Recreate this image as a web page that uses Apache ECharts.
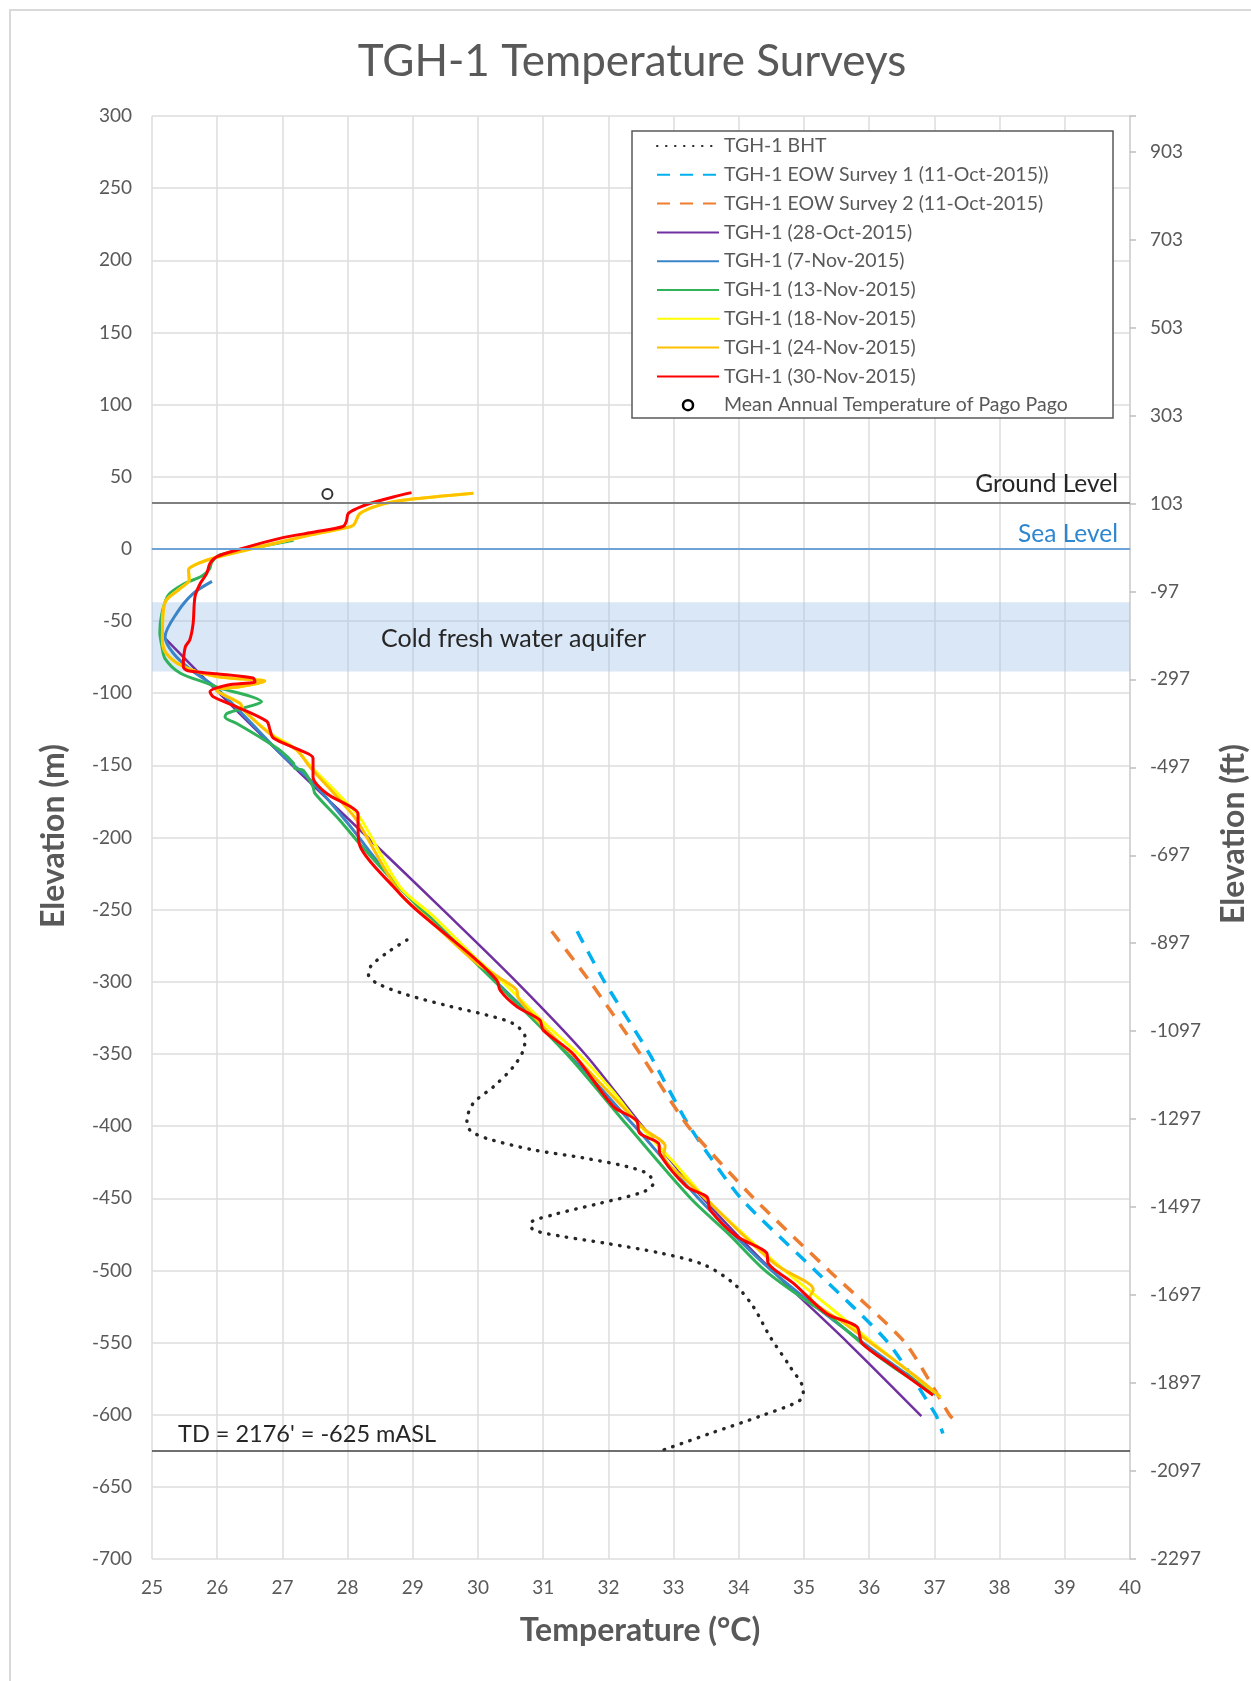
<!DOCTYPE html>
<html>
<head>
<meta charset="utf-8">
<script src="https://cdn.jsdelivr.net/npm/echarts@6/dist/echarts.min.js"></script>
<style>
  html, body { margin: 0; padding: 0; background: #fff; }
  #chart { width: 1251px; height: 1681px; }
</style>
</head>
<body>
<div id="chart"></div>
<script>
// Temperature (°C) vs elevation (m) pairs for each survey of well TGH-1
const bht = [[28.91,-271],[28.6,-280],[28.36,-289],[28.32,-295],[28.45,-301],[28.91,-309],[29.57,-317],[30.13,-323],[30.54,-329],[30.72,-338],[30.7,-347],[30.54,-359],[30.23,-373],[29.93,-384],[29.83,-396],[29.88,-403],[30.13,-408.5],[30.85,-416.5],[31.61,-422],[32.28,-428],[32.6,-433],[32.69,-439.5],[32.54,-445.5],[31.87,-453.5],[31.15,-461.5],[30.8,-467.5],[30.85,-472],[31.3,-476.5],[32.0,-481.5],[32.8,-488],[33.46,-496],[33.92,-509],[34.22,-525],[34.48,-546],[34.79,-567],[34.99,-583],[34.94,-590],[34.33,-601],[33.56,-613],[32.84,-624.5]];

const eowSurvey1 = [[31.52,-265],[31.94,-300],[32.63,-350],[33.24,-400],[34.03,-450],[35.17,-500],[36.29,-550],[37.02,-600],[37.13,-613]];

const eowSurvey2 = [[31.13,-265],[31.72,-300],[32.49,-350],[33.22,-400],[34.23,-450],[35.38,-500],[36.55,-550],[37.23,-600],[37.33,-605]];

const oct28 = [[25.2,-62],[26.03,-100],[27.15,-150],[28.31,-200],[29.46,-250],[30.59,-300],[31.64,-350],[32.52,-400],[33.45,-450],[34.51,-500],[35.67,-550],[36.8,-601]];

const nov07 = [[25.92,-22.5],[25.63,-31],[25.38,-44.5],[25.2,-61],[25.33,-72.5],[25.6,-84],[25.95,-95],[26.4,-115],[27.0,-143],[27.47,-162],[28.0,-190],[28.7,-230],[29.15,-250],[30.28,-300],[31.4,-350],[32.4,-400],[33.38,-450],[34.5,-500],[35.9,-550],[37.02,-586]];

const nov13 = [[27.17,6],[26.6,1],[26.05,-4],[25.92,-9],[25.88,-14],[25.76,-19],[25.5,-24],[25.25,-32],[25.15,-45],[25.12,-58],[25.15,-67],[25.2,-76],[25.43,-86],[25.84,-93],[26.04,-96.5],[26.5,-102],[26.68,-106],[26.5,-109],[26.15,-114],[26.12,-116.5],[26.3,-121],[26.71,-132],[26.96,-139.5],[27.17,-148.5],[27.19,-152],[27.32,-153.5],[27.47,-165],[27.5,-169.5],[27.88,-188],[28.14,-202],[28.7,-230],[29.13,-250],[30.26,-300],[31.36,-350],[32.3,-400],[33.26,-450],[33.85,-475],[34.4,-500],[35.0,-520],[35.4,-532],[35.87,-550],[36.4,-568],[37.0,-585]];

const nov18 = [[29.93,38.5],[28.91,34],[28.5,30.5],[28.19,24.5],[28.09,16.5],[27.93,14.3],[27.32,8.5],[26.45,-0.8],[25.94,-6.5],[25.66,-11],[25.56,-14.5],[25.57,-21.5],[25.43,-27.5],[25.22,-35.5],[25.17,-44.5],[25.16,-63],[25.22,-72.5],[25.48,-81.5],[25.99,-88.5],[26.6,-90.8],[26.73,-91.5],[26.35,-95.5],[25.99,-98],[26.35,-107],[26.4,-111.5],[26.82,-128],[27.2,-138.5],[27.42,-150],[27.9,-172],[28.2,-187],[28.8,-234],[29.3,-254],[29.95,-283],[30.38,-300],[31.0,-328],[31.54,-350],[32.05,-375],[32.49,-400],[33.0,-425],[33.49,-450],[34.1,-476],[34.7,-500],[35.3,-522],[35.65,-535],[36.05,-550],[36.6,-570],[37.1,-588]];

const nov24 = [[29.93,38.5],[28.91,34],[28.5,30.5],[28.19,24.5],[28.09,16.5],[27.93,14.3],[27.32,8.5],[26.45,-0.8],[25.94,-6.5],[25.66,-11],[25.56,-14.5],[25.57,-21.5],[25.43,-27.5],[25.22,-35.5],[25.17,-44.5],[25.16,-63],[25.22,-72.5],[25.48,-81.5],[25.99,-88.5],[26.6,-90.8],[26.73,-91.5],[26.35,-95.5],[25.99,-98],[26.35,-107],[26.4,-111.5],[26.86,-130],[27.22,-139.5],[27.42,-151],[27.88,-174],[28.14,-188],[28.8,-238.5],[29.2,-255],[29.95,-286],[30.34,-297.5],[30.59,-305.5],[30.62,-311.5],[31.0,-331],[31.55,-355],[32.1,-381],[32.55,-402],[32.87,-414],[32.85,-420],[33.25,-440],[33.6,-455],[34.1,-477],[34.6,-497],[35.0,-507],[35.12,-511],[35.14,-514],[35.09,-518],[35.6,-536],[36.2,-556],[36.7,-573],[37.09,-587.5]];

const nov30 = [[28.98,39],[28.7,36],[28.34,31.5],[28.14,28],[28.01,24.5],[27.98,19],[27.93,15.5],[27.53,12],[26.96,7.3],[26.4,0.5],[25.99,-5.5],[25.89,-10],[25.84,-17],[25.74,-24],[25.66,-33],[25.63,-52],[25.58,-63],[25.51,-68],[25.48,-81.5],[25.55,-84.5],[25.99,-86.5],[26.55,-89.5],[26.58,-92],[26.15,-94.5],[25.89,-99],[25.94,-102.5],[26.3,-109.5],[26.76,-119.5],[26.81,-125.5],[26.86,-131],[27.27,-139.5],[27.47,-145],[27.47,-158],[27.68,-169.5],[28.04,-178.5],[28.16,-183.5],[28.16,-192.5],[28.19,-206],[28.7,-234],[29.05,-250],[29.93,-283],[30.29,-299],[30.34,-306],[30.59,-317],[30.95,-326.5],[31.0,-333.5],[31.46,-350],[32.08,-386.5],[32.43,-396],[32.48,-405],[32.77,-412],[32.79,-419],[33.2,-442],[33.51,-449],[33.56,-458],[33.97,-476.5],[34.43,-488],[34.45,-495],[34.84,-509],[35.35,-530],[35.81,-539],[35.89,-550.5],[36.37,-566.5],[36.98,-586.5]];

const meanAnnualTemp = [[27.69,38]];

// Reference levels (m ASL)
const groundLevel = 32;
const seaLevel = 0;
const totalDepth = -625;
const aquiferTop = -37;
const aquiferBottom = -85;

// Right-hand axis labels in feet, one every 200 ft starting at the bottom of the chart
const ftLabels = [-2297,-2097,-1897,-1697,-1497,-1297,-1097,-897,-697,-497,-297,-97,103,303,503,703,903];
const FT_PER_M = 3.28084;

const FONT = 'Lato';
const GREY = '#595959';

const chart = echarts.init(document.getElementById('chart'), null, { renderer: 'canvas' });

function lineSeries(name, data, color, width, type, extra) {
  return Object.assign({
    name: name,
    type: 'line',
    data: data,
    symbol: 'none',
    smooth: 0.3,
    lineStyle: { color: color, width: width, type: type || 'solid' },
    itemStyle: { color: color },
    emphasis: { disabled: true }
  }, extra || {});
}

const names = [
  'TGH-1 BHT',
  'TGH-1 EOW Survey 1 (11-Oct-2015))',
  'TGH-1 EOW Survey 2 (11-Oct-2015)',
  'TGH-1 (28-Oct-2015)',
  'TGH-1 (7-Nov-2015)',
  'TGH-1 (13-Nov-2015)',
  'TGH-1 (18-Nov-2015)',
  'TGH-1 (24-Nov-2015)',
  'TGH-1 (30-Nov-2015)',
  'Mean Annual Temperature of Pago Pago'
];

const option = {
  animation: false,
  backgroundColor: '#ffffff',
  textStyle: { fontFamily: FONT },
  grid: { left: 152, right: 121, top: 116, bottom: 122 },
  xAxis: {
    type: 'value', min: 25, max: 40, interval: 1,
    axisLine: { show: true, lineStyle: { color: '#bfbfbf', width: 1.5 } },
    axisTick: { show: false },
    axisLabel: { color: GREY, fontSize: 19, margin: 19 },
    splitLine: { show: true, lineStyle: { color: '#dcdcdc', width: 1.5 } }
  },
  yAxis: [
    {
      type: 'value', min: -700, max: 300, interval: 50,
      axisLine: { show: false },
      axisTick: { show: false },
      axisLabel: { color: GREY, fontSize: 19, margin: 20 },
      splitLine: { show: true, lineStyle: { color: '#dcdcdc', width: 1.5 } }
    },
    {
      type: 'value', position: 'right',
      min: 0, max: 1000 * FT_PER_M, interval: 200,
      axisLine: { show: true, lineStyle: { color: '#d0d0d0', width: 1.5 } },
      axisTick: { show: true, inside: false, length: 6, lineStyle: { color: '#bfbfbf', width: 1.5 } },
      axisLabel: {
        color: GREY, fontSize: 19, margin: 20,
        formatter: function (v) {
          const i = v / 200;
          return Number.isInteger(i) && ftLabels[i] !== undefined ? String(ftLabels[i]) : '';
        }
      },
      splitLine: { show: false }
    }
  ],
  legend: {
    orient: 'vertical',
    left: 632, top: 131,
    padding: [5, 20, 4, 24],
    itemWidth: 62, itemHeight: 10, itemGap: 8.8,
    z: 4,
    itemStyle: { opacity: 0 },
    textStyle: { color: GREY, fontSize: 19.5, lineHeight: 19, fontFamily: FONT },
    data: names.slice(0, 9).concat([{
      name: names[9], icon: 'circle',
      itemStyle: { opacity: 1, color: '#ffffff', borderColor: '#000000', borderWidth: 2.5 }
    }]),
    selectedMode: false
  },
  graphic: [
    { type: 'rect', silent: true, z: -10, shape: { x: 10, y: 10, width: 1300, height: 1700 },
      style: { fill: null, stroke: '#d9d9d9', lineWidth: 2 } },
    { type: 'rect', silent: true, z: 3, shape: { x: 632, y: 131, width: 481, height: 287 },
      style: { fill: '#ffffff', stroke: '#595959', lineWidth: 1.5 } },
    { type: 'text', silent: true, x: 632, y: 62,
      style: { text: 'TGH-1 Temperature Surveys', fontFamily: FONT, fontSize: 44, fill: GREY, align: 'center', verticalAlign: 'middle' } },
    { type: 'text', silent: true, x: 640, y: 1631,
      style: { text: 'Temperature (°C)', fontFamily: FONT, fontSize: 32, fontWeight: 'bold', fill: GREY, align: 'center', verticalAlign: 'middle' } },
    { type: 'text', silent: true, x: 54, y: 836, rotation: Math.PI / 2,
      style: { text: 'Elevation (m)', fontFamily: FONT, fontSize: 32, fontWeight: 'bold', fill: GREY, align: 'center', verticalAlign: 'middle' } },
    { type: 'text', silent: true, x: 1234, y: 834, rotation: Math.PI / 2,
      style: { text: 'Elevation (ft)', fontFamily: FONT, fontSize: 32, fontWeight: 'bold', fill: GREY, align: 'center', verticalAlign: 'middle' } }
  ],
  series: [
    lineSeries(names[0], bht, '#262626', 3.4, [0.5, 8.5], {
      lineStyle: { color: '#262626', width: 3.4, type: [0.5, 8.5], cap: 'round' },
      markArea: {
        silent: true,
        itemStyle: { color: 'rgba(160,196,232,0.40)' },
        label: {
          show: true, position: [229, 37], align: 'left', verticalAlign: 'middle',
          color: '#262626', fontSize: 25, fontFamily: FONT
        },
        data: [[{ name: 'Cold fresh water aquifer', yAxis: aquiferTop, x: 152 }, { yAxis: aquiferBottom, x: 1130 }]]
      },
      markLine: {
        silent: true, symbol: ['none', 'none'], animation: false,
        data: [
          { yAxis: groundLevel, lineStyle: { color: '#808080', width: 2, type: 'solid' },
            label: { show: true, formatter: 'Ground Level', position: 'insideEndTop', distance: [12, 6], color: '#262626', fontSize: 24.5, fontFamily: FONT } },
          { yAxis: seaLevel, lineStyle: { color: '#6fa3d6', width: 2, type: 'solid' },
            label: { show: true, formatter: 'Sea Level', position: 'insideEndTop', distance: [12, 2], color: '#2e86d0', fontSize: 24.5, fontFamily: FONT } },
          { yAxis: totalDepth, lineStyle: { color: '#404040', width: 1.5, type: 'solid' },
            label: { show: true, formatter: "TD = 2176' = -625 mASL", position: 'insideStartTop', distance: [26, 4], color: '#262626', fontSize: 23.5, fontFamily: FONT } }
        ]
      }
    }),
    lineSeries(names[1], eowSurvey1, '#00b0f0', 3.5, [13, 10], { smooth: 0.2 }),
    lineSeries(names[2], eowSurvey2, '#ed7d31', 3.5, [13, 10], { smooth: 0.2 }),
    lineSeries(names[3], oct28, '#7030a0', 2.5, 'solid'),
    lineSeries(names[4], nov07, '#3a85c8', 3, 'solid'),
    lineSeries(names[5], nov13, '#2fb25a', 3, 'solid'),
    lineSeries(names[6], nov18, '#ffff00', 3, 'solid'),
    lineSeries(names[7], nov24, '#ffc000', 3, 'solid'),
    lineSeries(names[8], nov30, '#ff0000', 3, 'solid'),
    {
      name: names[9], type: 'scatter', data: meanAnnualTemp,
      symbol: 'emptyCircle', symbolSize: 10,
      itemStyle: { color: '#000', borderColor: '#000', borderWidth: 2.5 },
      emphasis: { disabled: true }, z: 5
    }
  ]
};

chart.setOption(option);
</script>
</body>
</html>
